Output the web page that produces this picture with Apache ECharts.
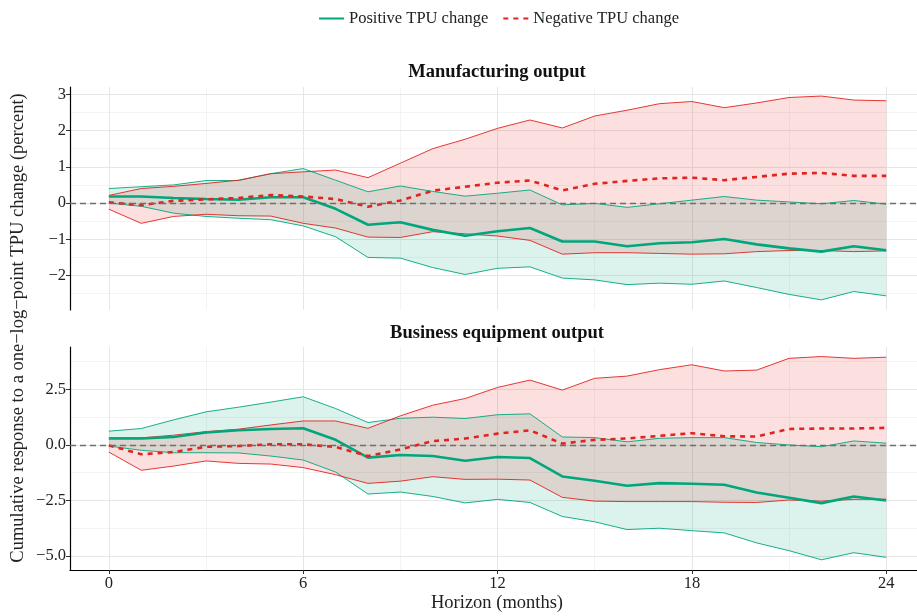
<!DOCTYPE html>
<html>
<head>
<meta charset="utf-8">
<script src="https://cdn.jsdelivr.net/npm/echarts@6/dist/echarts.min.js"></script>
<style>
  html, body { margin: 0; padding: 0; background: #fff; }
  #chart { width: 917px; height: 616px; }
</style>
</head>
<body>
<div id="chart"></div>
<script>
const horizon = [0, 1, 2, 3, 4, 5, 6, 7, 8, 9, 10, 11, 12, 13, 14, 15, 16, 17, 18, 19, 20, 21, 22, 23, 24];

// Manufacturing output
const mfgPos = [0.18, 0.18, 0.14, 0.11, 0.09, 0.16, 0.16, -0.16, -0.6, -0.53, -0.74, -0.9, -0.78, -0.69, -1.06, -1.06, -1.19, -1.11, -1.08, -0.99, -1.14, -1.25, -1.34, -1.19, -1.3];
const mfgPosLo = [0, -0.09, -0.28, -0.37, -0.42, -0.46, -0.63, -0.93, -1.5, -1.52, -1.78, -1.97, -1.8, -1.76, -2.07, -2.12, -2.25, -2.21, -2.24, -2.15, -2.33, -2.52, -2.67, -2.44, -2.56];
const mfgPosHi = [0.4, 0.45, 0.5, 0.62, 0.62, 0.81, 0.95, 0.63, 0.31, 0.47, 0.32, 0.19, 0.27, 0.36, -0.05, -0.01, -0.12, -0.02, 0.08, 0.18, 0.08, 0.03, -0.02, 0.07, -0.03];
const mfgNeg = [0.02, -0.06, 0.06, 0.1, 0.14, 0.22, 0.18, 0.11, -0.1, 0.07, 0.34, 0.45, 0.56, 0.62, 0.35, 0.53, 0.61, 0.68, 0.7, 0.63, 0.72, 0.81, 0.83, 0.75, 0.75];
const mfgNegLo = [-0.17, -0.56, -0.37, -0.31, -0.35, -0.36, -0.56, -0.69, -0.94, -0.95, -0.79, -0.85, -0.91, -1.03, -1.41, -1.37, -1.37, -1.39, -1.41, -1.4, -1.34, -1.31, -1.31, -1.34, -1.32];
const mfgNegHi = [0.21, 0.4, 0.46, 0.54, 0.63, 0.81, 0.86, 0.91, 0.7, 1.1, 1.5, 1.76, 2.06, 2.29, 2.07, 2.4, 2.56, 2.74, 2.8, 2.63, 2.76, 2.91, 2.95, 2.84, 2.82];

// Business equipment output
const beqPos = [0.29, 0.29, 0.36, 0.56, 0.66, 0.72, 0.75, 0.23, -0.57, -0.45, -0.5, -0.71, -0.54, -0.59, -1.42, -1.61, -1.84, -1.72, -1.75, -1.79, -2.14, -2.38, -2.62, -2.32, -2.5];
const beqPosLo = [-0.05, -0.24, -0.35, -0.35, -0.36, -0.5, -0.68, -1.22, -2.21, -2.12, -2.32, -2.61, -2.45, -2.59, -3.22, -3.46, -3.81, -3.75, -3.86, -3.96, -4.41, -4.76, -5.17, -4.85, -5.06];
const beqPosHi = [0.62, 0.74, 1.13, 1.49, 1.7, 1.93, 2.17, 1.64, 1.01, 1.2, 1.25, 1.19, 1.36, 1.4, 0.36, 0.33, 0.14, 0.3, 0.33, 0.33, 0.11, 0, -0.08, 0.18, 0.08];
const beqNeg = [-0.02, -0.42, -0.32, -0.08, -0.05, 0.03, 0.03, -0.09, -0.5, -0.2, 0.17, 0.29, 0.51, 0.66, 0.06, 0.23, 0.29, 0.41, 0.53, 0.39, 0.38, 0.72, 0.74, 0.74, 0.77];
const beqNegLo = [-0.32, -1.14, -0.95, -0.72, -0.83, -0.86, -1.02, -1.34, -1.73, -1.63, -1.43, -1.55, -1.54, -1.58, -2.36, -2.53, -2.55, -2.55, -2.55, -2.58, -2.59, -2.48, -2.53, -2.45, -2.44];
const beqNegHi = [0.32, 0.32, 0.44, 0.6, 0.71, 0.9, 1.08, 1.08, 0.75, 1.31, 1.79, 2.09, 2.59, 2.92, 2.47, 3.0, 3.1, 3.39, 3.61, 3.33, 3.37, 3.9, 3.98, 3.9, 3.95];

const xTicks = [0, 6, 12, 18, 24];
const xMinor = [3, 9, 15, 21];
const mfgTicks = [-2, -1, 0, 1, 2, 3];
const mfgMinor = [-2.5, -1.5, -0.5, 0.5, 1.5, 2.5];
const beqTicks = [-5, -2.5, 0, 2.5];
const beqMinor = [-3.75, -1.25, 1.25, 3.75];

const GREEN = '#00a67c';
const RED = '#e2231f';
const FONT = '"Liberation Serif", "DejaVu Serif", serif';

const pairs = (vals) => horizon.map((h, i) => [h, vals[i]]);
const minus = (s) => String(s).replace('-', '\u2212');

const gridLines = (gi, yMajor, yMinor) => ({
  type: 'line',
  xAxisIndex: gi,
  yAxisIndex: gi,
  data: [],
  silent: true,
  z: 0,
  markLine: {
    silent: true,
    z: 0,
    symbol: 'none',
    label: { show: false },
    animation: false,
    data: [
      ...xMinor.map((v) => ({ xAxis: v, lineStyle: { color: '#f3f3f3', width: 1, type: 'solid' } })),
      ...yMinor.map((v) => ({ yAxis: v, lineStyle: { color: '#f3f3f3', width: 1, type: 'solid' } })),
      ...xTicks.map((v) => ({ xAxis: v, lineStyle: { color: '#e6e6e6', width: 1, type: 'solid' } })),
      ...yMajor.map((v) => ({ yAxis: v, lineStyle: { color: '#e6e6e6', width: 1, type: 'solid' } })),
    ],
  },
});

// ribbon polygon drawn once, through the grid's own scales
const ribbon = (gi, lo, hi, color) => ({
  type: 'custom',
  xAxisIndex: gi,
  yAxisIndex: gi,
  silent: true,
  z: 1,
  data: horizon.map((h, i) => [h, lo[i], hi[i]]),
  encode: { x: 0, y: [1, 2] },
  renderItem: (params, api) => {
    if (params.dataIndex !== 0) return null;
    const upper = horizon.map((h, i) => api.coord([h, hi[i]]));
    const lower = horizon.map((h, i) => api.coord([h, lo[i]])).reverse();
    return {
      type: 'polygon',
      shape: { points: upper.concat(lower) },
      style: { fill: color, opacity: 0.14 },
    };
  },
});

const edge = (gi, vals, color) => ({
  type: 'line',
  xAxisIndex: gi,
  yAxisIndex: gi,
  data: pairs(vals),
  symbol: 'none',
  silent: true,
  z: 2,
  lineStyle: { color: color, width: 0.9 },
});

const estimate = (gi, vals, name, color, dashed) => ({
  name: name,
  type: 'line',
  xAxisIndex: gi,
  yAxisIndex: gi,
  data: pairs(vals),
  symbol: 'none',
  z: 4,
  itemStyle: { color: color },
  lineStyle: dashed
    ? { color: color, width: 2.6, type: [5, 5] }
    : { color: color, width: 2.6 },
});

const zeroLine = (gi) => ({
  type: 'line',
  xAxisIndex: gi,
  yAxisIndex: gi,
  data: [],
  silent: true,
  z: 5,
  markLine: {
    silent: true,
    z: 5,
    symbol: 'none',
    label: { show: false },
    animation: false,
    data: [{ yAxis: 0 }],
    lineStyle: { color: '#6e6e6e', width: 1.3, type: [6, 4] },
  },
});

const xAxisBase = (gi, showAxis) => ({
  type: 'value',
  gridIndex: gi,
  min: -1.2,
  max: 24.95,
  splitLine: { show: false },
  axisLine: { show: showAxis, onZero: false, lineStyle: { color: '#000', width: 1.2 } },
  axisTick: { show: showAxis, customValues: xTicks, length: 4, lineStyle: { color: '#333' } },
  axisLabel: { show: showAxis, customValues: xTicks, color: '#222', fontFamily: FONT, fontSize: 16.5, margin: 5 },
});

const yAxisBase = (gi, min, max, ticks, fmt) => ({
  type: 'value',
  gridIndex: gi,
  min: min,
  max: max,
  splitLine: { show: false },
  axisLine: { show: true, onZero: false, lineStyle: { color: '#000', width: 1.2 } },
  axisTick: { show: true, customValues: ticks, length: 4, lineStyle: { color: '#333' } },
  axisLabel: { customValues: ticks, formatter: fmt, color: '#222', fontFamily: FONT, fontSize: 16.5, margin: 4 },
});

const option = {
  animation: false,
  backgroundColor: '#fff',
  legend: {
    top: 5,
    left: 313,
    itemWidth: 25,
    itemHeight: 12,
    itemGap: 14,
    itemStyle: { opacity: 0 },
    data: ['Positive TPU change', 'Negative TPU change'],
    textStyle: { fontFamily: FONT, fontSize: 16.5, color: '#222' },
  },
  grid: [
    { left: 70, right: 0, top: 87, height: 223 },
    { left: 70, right: 0, top: 347, height: 223 },
  ],
  xAxis: [xAxisBase(0, false), xAxisBase(1, true)],
  yAxis: [
    yAxisBase(0, -2.95, 3.2, mfgTicks, (v) => minus(v)),
    yAxisBase(1, -5.63, 4.41, beqTicks, (v) => minus(v.toFixed(1))),
  ],
  graphic: [
    {
      type: 'text', x: 497, y: 72,
      style: { text: 'Manufacturing output', font: 'bold 18.5px ' + FONT, fill: '#111', textAlign: 'center', textVerticalAlign: 'middle' },
    },
    {
      type: 'text', x: 497, y: 333,
      style: { text: 'Business equipment output', font: 'bold 18.5px ' + FONT, fill: '#111', textAlign: 'center', textVerticalAlign: 'middle' },
    },
    {
      type: 'text', x: 497, y: 603,
      style: { text: 'Horizon (months)', font: '18.5px ' + FONT, fill: '#222', textAlign: 'center', textVerticalAlign: 'middle' },
    },
    {
      type: 'text', x: 18, y: 328, rotation: Math.PI / 2,
      style: { text: 'Cumulative response to a one\u2212log\u2212point TPU change (percent)', font: '18.5px ' + FONT, fill: '#222', textAlign: 'center', textVerticalAlign: 'middle' },
    },
  ],
  series: [
    gridLines(0, mfgTicks, mfgMinor),
    gridLines(1, beqTicks, beqMinor),
    ribbon(0, mfgPosLo, mfgPosHi, GREEN),
    ribbon(0, mfgNegLo, mfgNegHi, RED),
    ribbon(1, beqPosLo, beqPosHi, GREEN),
    ribbon(1, beqNegLo, beqNegHi, RED),
    edge(0, mfgPosLo, GREEN), edge(0, mfgPosHi, GREEN),
    edge(0, mfgNegLo, RED), edge(0, mfgNegHi, RED),
    edge(1, beqPosLo, GREEN), edge(1, beqPosHi, GREEN),
    edge(1, beqNegLo, RED), edge(1, beqNegHi, RED),
    zeroLine(0),
    zeroLine(1),
    estimate(0, mfgPos, 'Positive TPU change', GREEN, false),
    estimate(0, mfgNeg, 'Negative TPU change', RED, true),
    estimate(1, beqPos, 'Positive TPU change', GREEN, false),
    estimate(1, beqNeg, 'Negative TPU change', RED, true),
  ],
};

const chart = echarts.init(document.getElementById('chart'));
chart.setOption(option);
</script>
</body>
</html>
